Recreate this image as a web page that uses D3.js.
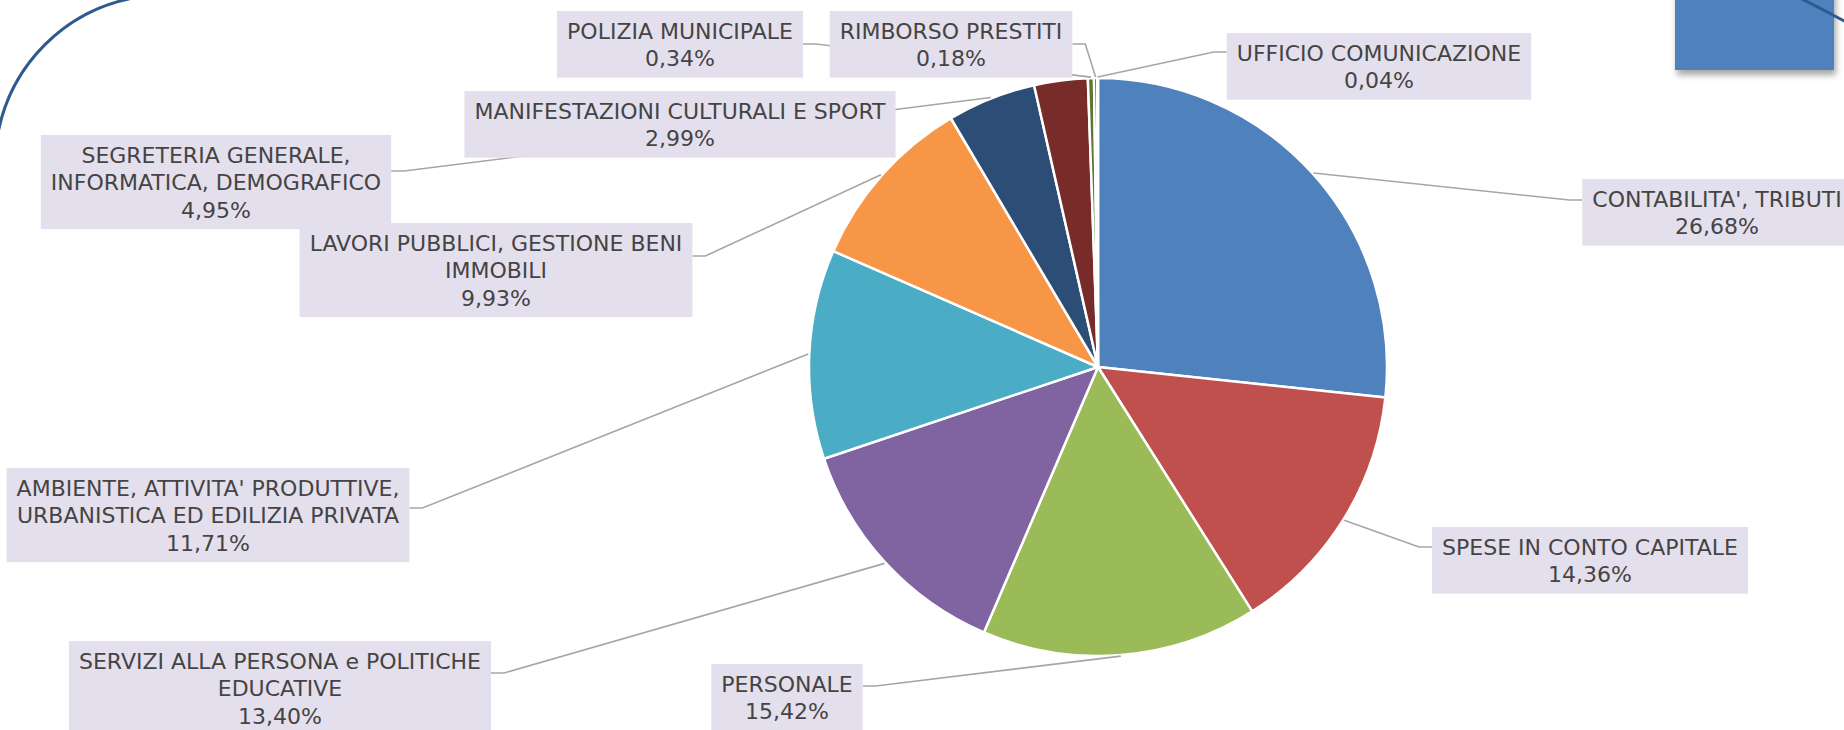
<!DOCTYPE html>
<html>
<head>
<meta charset="utf-8">
<script src="https://cdn.jsdelivr.net/npm/d3@7"></script>
<style>
  html, body { margin: 0; padding: 0; background: #fff; overflow: hidden; }
  svg { display: block; }
  .lbl text { font-family: "DejaVu Sans", sans-serif; font-size: 22px; fill: #444; }
</style>
</head>
<body>
<svg id="chart" width="1844" height="730"></svg>
<script>
// ---------- data ----------
const categories = [
  "CONTABILITA', TRIBUTI",
  "SPESE IN CONTO CAPITALE",
  "PERSONALE",
  "SERVIZI ALLA PERSONA e POLITICHE EDUCATIVE",
  "AMBIENTE, ATTIVITA' PRODUTTIVE, URBANISTICA ED EDILIZIA PRIVATA",
  "LAVORI PUBBLICI, GESTIONE BENI IMMOBILI",
  "SEGRETERIA GENERALE, INFORMATICA, DEMOGRAFICO",
  "MANIFESTAZIONI CULTURALI E SPORT",
  "POLIZIA MUNICIPALE",
  "RIMBORSO PRESTITI",
  "UFFICIO COMUNICAZIONE"
];
const shares = [26.68, 14.36, 15.42, 13.40, 11.71, 9.93, 4.95, 2.99, 0.34, 0.18, 0.04];

// how each category name wraps inside its label box
const nameLines = [
  ["CONTABILITA', TRIBUTI"],
  ["SPESE IN CONTO CAPITALE"],
  ["PERSONALE"],
  ["SERVIZI ALLA PERSONA e POLITICHE", "EDUCATIVE"],
  ["AMBIENTE, ATTIVITA' PRODUTTIVE,", "URBANISTICA ED EDILIZIA PRIVATA"],
  ["LAVORI PUBBLICI, GESTIONE BENI", "IMMOBILI"],
  ["SEGRETERIA GENERALE,", "INFORMATICA, DEMOGRAFICO"],
  ["MANIFESTAZIONI CULTURALI E SPORT"],
  ["POLIZIA MUNICIPALE"],
  ["RIMBORSO PRESTITI"],
  ["UFFICIO COMUNICAZIONE"]
];

const COLORS = ["#4F81BD", "#C0504D", "#9BBB59", "#8064A2", "#4BACC6", "#F79646",
                "#2C4D75", "#772C2A", "#5F7530", "#4D3B62", "#276A7C"];

// ---------- layout ----------
const CX = 1098, CY = 367, R = 289;
const LINE_H = 27.4;

// label box placement: centre x, top y, side the leader leaves from, leader y offset
const labelPos = [
  { cx: 1717, top: 179, side: "left",  dy: 21 },
  { cx: 1590, top: 527, side: "left",  dy: 20 },
  { cx: 787,  top: 664, side: "right", dy: 22 },
  { cx: 280,  top: 641, side: "right", dy: 32 },
  { cx: 208,  top: 468, side: "right", dy: 40 },
  { cx: 496,  top: 223, side: "right", dy: 33 },
  { cx: 216,  top: 135, side: "right", dy: 36 },
  { cx: 680,  top: 91,  side: null,    dy: 0  },
  { cx: 680,  top: 11,  side: "right", dy: 33 },
  { cx: 951,  top: 11,  side: "right", dy: 33 },
  { cx: 1379, top: 33,  side: "left",  dy: 19 }
];

const fmtPct = v => v.toFixed(2).replace(".", ",") + "%";

const svg = d3.select("#chart");

// ---------- slide decorations ----------
const defs = svg.append("defs");
defs.append("filter").attr("id", "shadow")
    .attr("x", "-20%").attr("y", "-20%").attr("width", "150%").attr("height", "160%")
  .append("feDropShadow").attr("dx", 2).attr("dy", 5).attr("stdDeviation", 3)
    .attr("flood-color", "#000").attr("flood-opacity", 0.35);

svg.append("rect")
  .attr("x", 1675).attr("y", -10).attr("width", 159).attr("height", 80)
  .attr("fill", "#4F81BD").attr("filter", "url(#shadow)");

const tl = d3.path();
tl.arc(165, 165, 170, -2.95, -1.76);
svg.append("path").attr("d", tl.toString())
  .attr("fill", "none").attr("stroke", "#2E5A8E").attr("stroke-width", 3);

svg.append("path")
  .attr("d", "M1800,-2 Q1822,9 1846,22")
  .attr("fill", "none").attr("stroke", "#2E5A8E").attr("stroke-width", 3);

// ---------- pie ----------
const pie = d3.pie().sort(null).value(d => d)(shares);
const arc = d3.arc().innerRadius(0).outerRadius(R);

svg.append("g").attr("transform", `translate(${CX},${CY})`)
  .selectAll("path").data(pie).join("path")
    .attr("d", arc)
    .attr("fill", (d, i) => COLORS[i])
    .attr("stroke", "#fff").attr("stroke-width", 2.5).attr("stroke-linejoin", "round");

// ---------- leader lines + labels ----------
const leaders = svg.append("g");
const labels = svg.append("g").attr("class", "lbl");

labelPos.forEach((p, i) => {
  const lines = nameLines[i].concat([fmtPct(shares[i])]);
  const lg = labels.append("g");
  const box = lg.append("rect").attr("fill", "#E4DFEC");
  const txt = lg.selectAll("text").data(lines).join("text")
    .attr("x", p.cx)
    .attr("y", (d, k) => p.top + 28 + k * LINE_H)
    .attr("text-anchor", "middle")
    .text(d => d);
  const w = d3.max(txt.nodes(), n => n.getComputedTextLength());
  const bx = p.cx - w / 2 - 10, bw = w + 20;
  const bh = 39.3 + (lines.length - 1) * LINE_H;
  box.attr("x", bx).attr("y", p.top).attr("width", bw).attr("height", bh);

  if (p.side) {
    const a = (pie[i].startAngle + pie[i].endAngle) / 2;
    const ex = CX + Math.sin(a) * (R + 1), ey = CY - Math.cos(a) * (R + 1);
    const sx = p.side === "left" ? bx : bx + bw;
    const sy = p.top + p.dy;
    const kx = p.side === "left" ? sx - 13 : sx + 13;
    leaders.append("path")
      .attr("d", d3.line()([[sx, sy], [kx, sy], [ex, ey]]))
      .attr("fill", "none").attr("stroke", "#A6A6A6").attr("stroke-width", 1.6);
  }
});
</script>
</body>
</html>
